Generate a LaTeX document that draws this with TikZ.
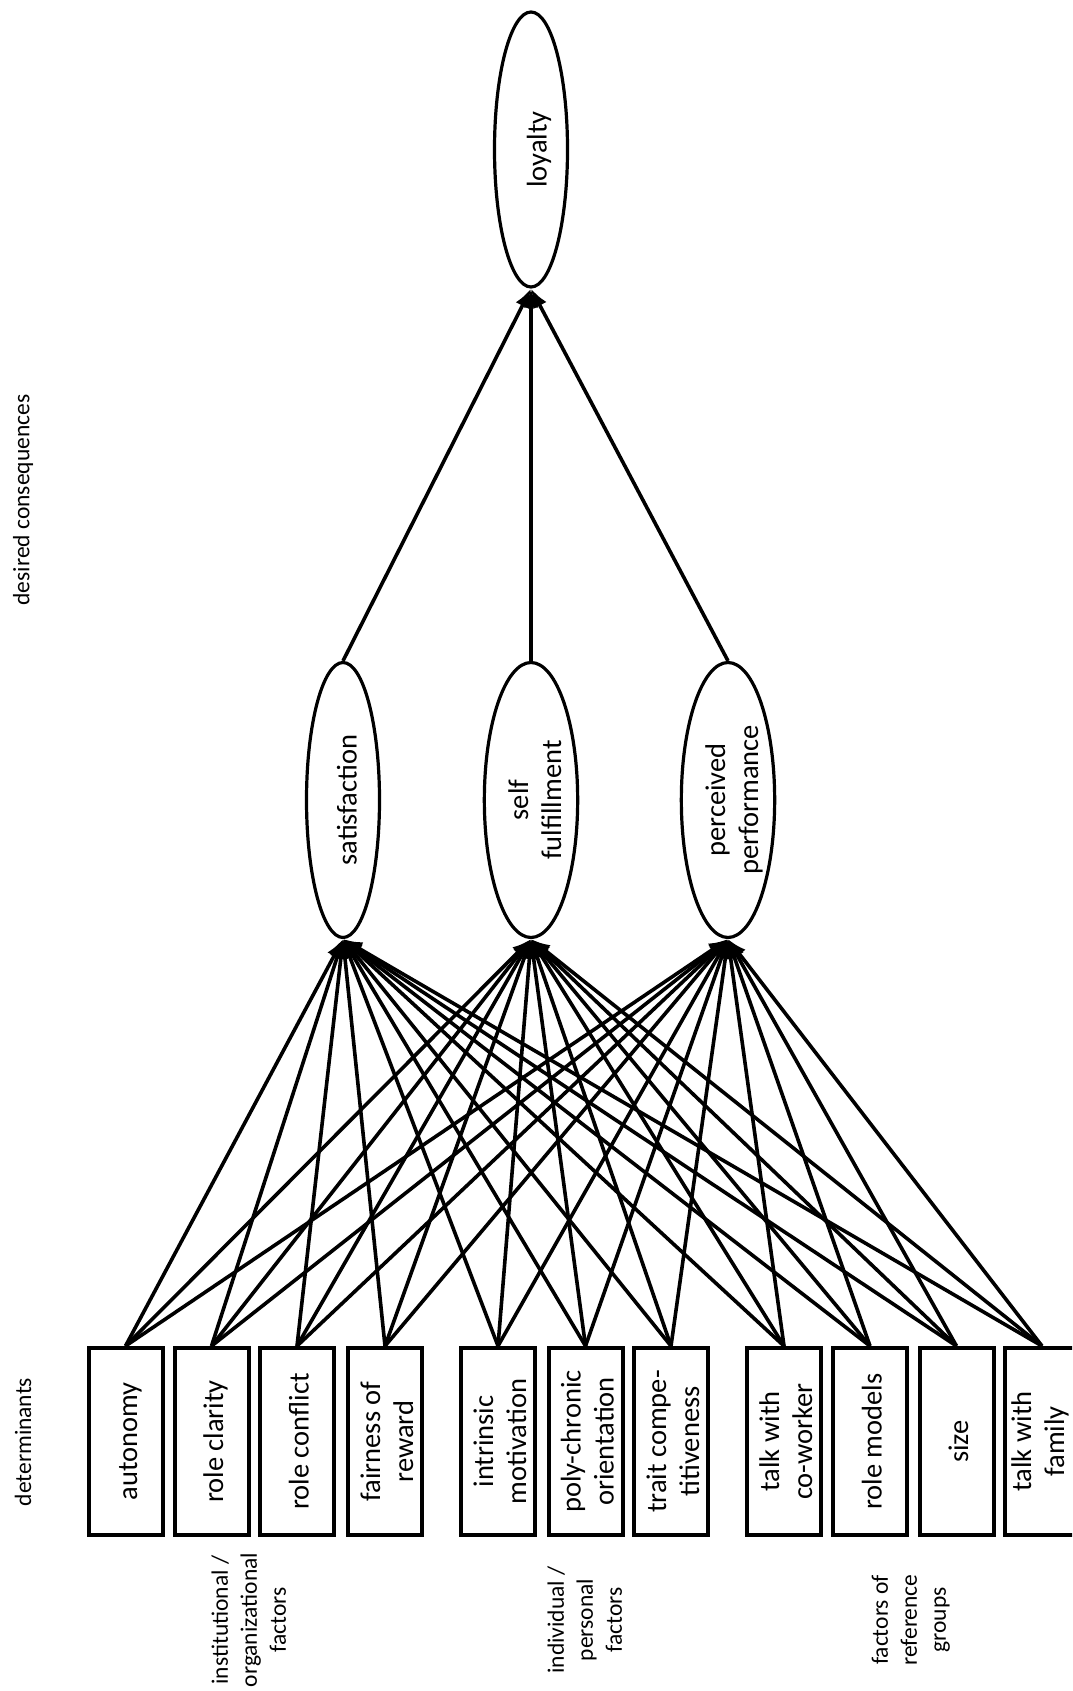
\documentclass[tikz,border=0pt]{standalone}
\usepackage{fontspec}
\setmainfont{Carlito}
\usetikzlibrary{shapes.geometric,arrows.meta}
\newcommand{\rtx}[2][5pt]{\rotatebox{90}{\raisebox{-#1}[\height][\depth]{\begin{tabular}{@{}c@{}}#2\end{tabular}}}}
\begin{document}
\begin{tikzpicture}[x=1pt,y=-1pt,
  box/.style={draw,line width=4pt,minimum width=74pt,minimum height=187pt,inner sep=0pt,font=\fontsize{28.5}{33}\selectfont},
  ell/.style={draw,ellipse,line width=3.2pt,minimum width=73pt,minimum height=275pt,inner sep=0pt,font=\fontsize{28.5}{33}\selectfont},
  lab/.style={font=\fontsize{23.5}{29}\selectfont,inner sep=0pt},
  conn/.style={line width=3.6pt,-{Latex[length=19pt,width=15pt]}}]
\useasboundingbox (0,0) rectangle (1072,1691);
\fill[white] (0,0) rectangle (1072,1691);
\clip (0,0) rectangle (1072,1691);

% determinants
\node[box] (aut) at (125.5,1441.5) {\rtx{autonomy}};
\node[box] (rcl) at (211.5,1441.5) {\rtx{role clarity}};
\node[box] (rco) at (297,1441.5) {\rtx{role conflict}};
\node[box] (fai) at (385,1441.5) {\rtx{fairness of\\reward}};
\node[box] (int) at (498,1441.5) {\rtx{intrinsic\\motivation}};
\node[box] (pol) at (585.5,1441.5) {\rtx{poly-chronic\\orientation}};
\node[box] (tra) at (671,1441.5) {\rtx{trait compe-\\titiveness}};
\node[box] (tcw) at (784,1441.5) {\rtx{talk with\\co-worker}};
\node[box] (rmo) at (870,1441.5) {\rtx{role models}};
\node[box] (siz) at (956.5,1441.5) {\rtx{size}};
\node[box] (tfa) at (1042,1441.5) {\rtx[-1pt]{talk with\\family}};

% consequences
\node[ell] (sat) at (343,800) {\rtx[7pt]{satisfaction}};
\node[ell] (sf) at (531,800) {\rtx[7pt]{self\\fulfillment}};
\node[ell] (pp) at (728,800) {\rtx[7pt]{perceived\\performance}};
\node[ell] (loy) at (531,149.5) {\rtx[9pt]{loyalty}};

% connectors
\foreach \b in {aut,rcl,rco,fai,int,pol,tra,tcw,rmo,siz,tfa}
  \foreach \e in {sat,sf,pp}
    \draw[conn] (\b.north) -- (\e.south);
\foreach \e in {sat,sf,pp}
  \draw[conn] (\e.north) -- (loy.south);

% labels
\node[lab] (desc) at (23,500) {\rotatebox{90}{desired consequences}};
\node[lab] (det) at (23,1442) {\rotatebox{90}{determinants}};
\node[lab] (g1) at (251,1620) {\rotatebox{90}{\begin{tabular}{@{}c@{}}institutional /\\organizational\\factors\end{tabular}}};
\node[lab] (g2) at (587,1620) {\rotatebox{90}{\begin{tabular}{@{}c@{}}individual /\\personal\\factors\end{tabular}}};
\node[lab] (g3) at (911,1620) {\rotatebox{90}{\begin{tabular}{@{}c@{}}factors of\\reference\\groups\end{tabular}}};
\end{tikzpicture}
\end{document}
